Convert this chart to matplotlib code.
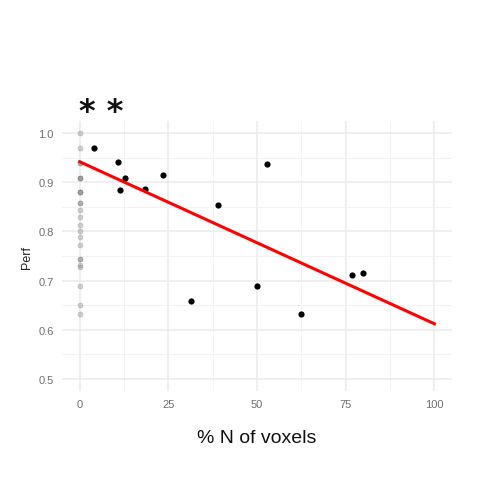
import numpy as np
import matplotlib
matplotlib.use("Agg")
import matplotlib.pyplot as plt
from matplotlib.ticker import MultipleLocator

plt.rcParams['font.family'] = ['Liberation Sans', 'DejaVu Sans']

# subjects with voxels in the region (% N of voxels, performance)
pct_voxels = [4.0, 10.8, 12.7, 11.3, 18.5, 23.4, 52.9, 38.9, 31.5, 50.0, 62.5, 76.7, 79.9]
perf = [0.969, 0.942, 0.909, 0.884, 0.886, 0.915, 0.938, 0.854, 0.659, 0.688, 0.631, 0.711, 0.715]

# subjects with no voxels (x = 0)
perf_zero = [1.0, 0.969, 0.940, 0.940, 0.909, 0.909, 0.909, 0.881, 0.881, 0.881,
             0.858, 0.858, 0.843, 0.829, 0.813, 0.801, 0.789, 0.772,
             0.744, 0.744, 0.732, 0.728, 0.688, 0.650, 0.631]

# linear fit endpoints
fit_x = [0, 100]
fit_y = [0.942, 0.612]

fig = plt.figure(figsize=(4.8, 5.02), dpi=100)
ax = fig.add_axes([0.129, 0.219, 0.813, 0.538])

ax.scatter(np.zeros(len(perf_zero)), perf_zero, s=13, color='#808080', alpha=0.35,
           edgecolors='#555555', linewidths=0.4, zorder=3)
ax.scatter(pct_voxels, perf, s=20, color='black', linewidths=0, zorder=4)
ax.plot(fit_x, fit_y, color='#ff0000', lw=2.2, zorder=5)

ax.set_xlim(-5, 105)
ax.set_ylim(0.475, 1.025)
ax.xaxis.set_minor_locator(MultipleLocator(12.5))
ax.yaxis.set_minor_locator(MultipleLocator(0.05))
ax.set_xticks([0, 25, 50, 75, 100])
ax.set_xticklabels(['0', '25', '50', '75', '100'])
ax.set_yticks([0.5, 0.6, 0.7, 0.8, 0.9, 1.0])
ax.set_yticklabels(['0.5', '0.6', '0.7', '0.8', '0.9', '1.0'])

ax.grid(which='major', color='#ebebeb', lw=1.1)
ax.grid(which='minor', color='#f2f2f2', lw=0.7)
ax.set_axisbelow(True)
for sp in ax.spines.values():
    sp.set_visible(False)
ax.tick_params(which='both', length=0, labelsize=8, labelcolor='#6e6e6e', pad=6)

ax.set_ylabel('Perf', fontsize=9, color='#222222', labelpad=4)
ax.set_xlabel('% N of voxels', fontsize=14, color='#111111', labelpad=14)

fig.text(0.210, 0.775, '* *', fontsize=23, fontweight='bold', family='DejaVu Sans',
         ha='center', va='center', color='#111111')

fig.savefig('out.png', dpi=100)
